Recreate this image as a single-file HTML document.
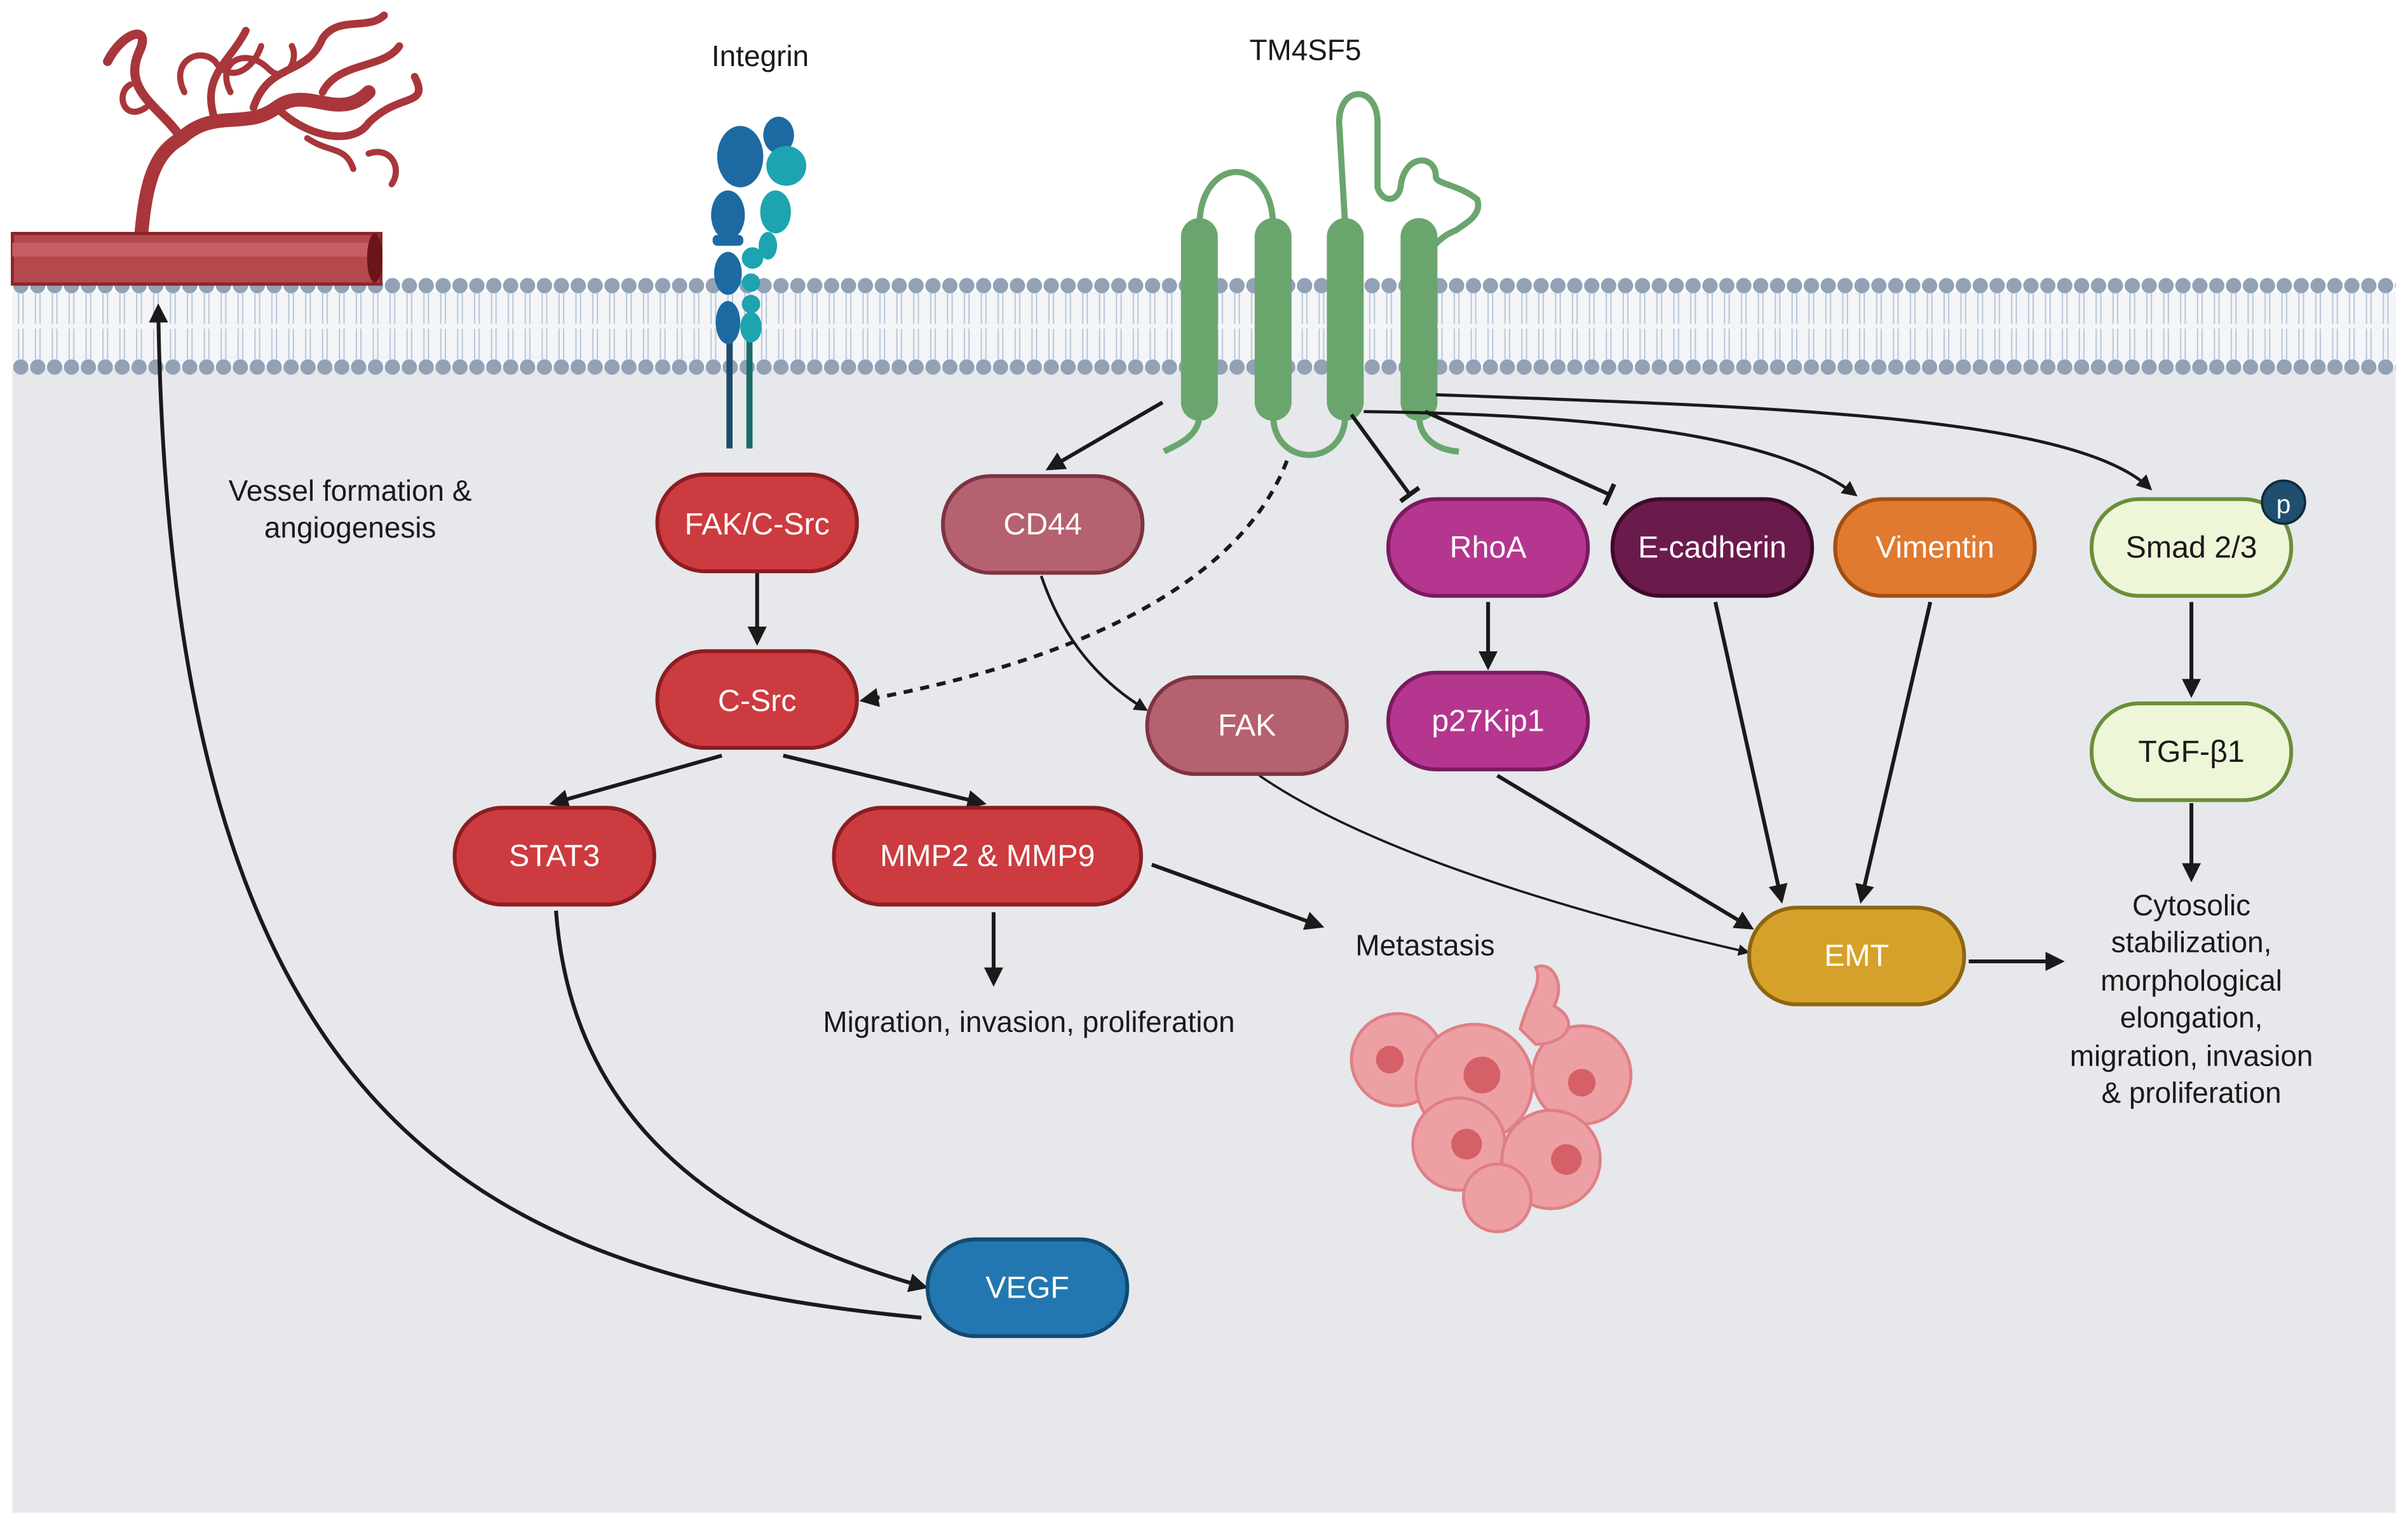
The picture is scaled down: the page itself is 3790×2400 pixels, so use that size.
<!DOCTYPE html>
<html><head><meta charset="utf-8"><style>html,body{margin:0;padding:0;background:#fff}svg{display:block}text{font-family:"Liberation Sans",sans-serif}</style></head><body>
<svg width="3790" height="2400" viewBox="0 0 1568 993" xmlns="http://www.w3.org/2000/svg">
<defs>
<marker id="a" viewBox="0 0 10 10" refX="8" refY="5" markerWidth="5" markerHeight="5" orient="auto"><path d="M0,0L10,5L0,10z" fill="#1a1a1a"/></marker>
<marker id="t" viewBox="0 0 10 10" refX="5" refY="5" markerWidth="6" markerHeight="6" orient="auto"><path d="M5,0V10" stroke="#1a1a1a" stroke-width="2"/></marker>
<pattern id="hp" x="8" y="181" width="11" height="10" patternUnits="userSpaceOnUse"><circle cx="5.5" cy="5" r="5" fill="#93a1b6"/></pattern>
<pattern id="hp2" x="8" y="234" width="11" height="10" patternUnits="userSpaceOnUse"><circle cx="5.5" cy="5" r="5" fill="#93a1b6"/></pattern>
<pattern id="tp" x="8" y="191" width="11" height="43" patternUnits="userSpaceOnUse"><path d="M4,0V20M7,0V20M4,23V43M7,23V43" stroke="#b8c4d6" stroke-width="0.8"/></pattern>
</defs>
<rect x="8" y="240" width="1552" height="745" fill="#e6e8ec"/>
<rect x="8" y="190" width="1552" height="46" fill="#f3f5f8"/>
<rect x="8" y="181" width="1552" height="10" fill="url(#hp)"/>
<rect x="8" y="191" width="1552" height="43" fill="url(#tp)"/>
<rect x="8" y="234" width="1552" height="10" fill="url(#hp2)"/>
<!-- vessel -->
<g stroke="#a8363b" fill="none" stroke-linecap="round">
<path d="M92,152 C95,120 100,100 118,90 C140,70 160,85 180,70 C200,55 220,80 240,60" stroke-width="9"/>
<path d="M118,90 C105,70 80,60 90,35 C100,15 80,20 70,40" stroke-width="6"/>
<path d="M140,78 C130,50 150,40 160,20 M165,70 C175,40 200,50 210,25 C220,10 240,20 250,10" stroke-width="5"/>
<path d="M180,70 C200,90 230,95 240,80 C260,60 280,70 270,50 M210,60 C220,40 250,45 260,30" stroke-width="5"/>
<path d="M120,60 C110,40 130,30 140,40 C150,55 165,45 170,30 M95,70 C80,80 75,60 85,55" stroke-width="4"/>
<path d="M150,60 C140,40 160,30 175,45 C185,55 195,40 190,30 M200,90 C215,100 225,95 230,110 M240,100 C255,95 262,110 255,120" stroke-width="4"/>
</g>
<rect x="8" y="152" width="240" height="33" fill="#b5484c" stroke="#8b2428" stroke-width="2"/>
<rect x="8" y="158" width="238" height="9" fill="#c45e62"/>
<ellipse cx="244" cy="168" rx="5" ry="16" fill="#6b1518"/>
<!-- integrin -->
<g>
<path d="M475,220V292" stroke="#1b4d6b" stroke-width="4"/>
<path d="M488,220V292" stroke="#1b6b6b" stroke-width="4"/>
<ellipse cx="482" cy="102" rx="15" ry="20" fill="#1d6aa2"/>
<ellipse cx="507" cy="88" rx="10" ry="12" fill="#1d6aa2"/>
<ellipse cx="512" cy="108" rx="13" ry="13" fill="#1da4b0"/>
<ellipse cx="474" cy="140" rx="11" ry="16" fill="#1d6aa2"/>
<ellipse cx="505" cy="138" rx="10" ry="14" fill="#1da4b0"/>
<rect x="464" y="153" width="20" height="7" rx="3" fill="#1d6aa2"/>
<ellipse cx="474" cy="178" rx="9" ry="14" fill="#1d6aa2"/>
<ellipse cx="474" cy="210" rx="8" ry="14" fill="#1d6aa2"/>
<circle cx="490" cy="168" r="7" fill="#1da4b0"/><circle cx="489" cy="184" r="6" fill="#1da4b0"/><circle cx="489" cy="198" r="6" fill="#1da4b0"/><ellipse cx="489" cy="213" rx="7" ry="10" fill="#1da4b0"/>
<ellipse cx="500" cy="160" rx="6" ry="9" fill="#1da4b0"/>
</g>
<!-- TM4SF5 -->
<g stroke="#6aa56e" fill="none" stroke-width="4">
<path d="M781,148 C781,100 829,100 829,148"/>
<path d="M876,148 L872,80 C872,55 897,55 897,80 L897,122 C900,132 910,132 912,122 C914,100 935,100 935,115 C935,120 950,120 962,130 C965,140 955,145 948,150 C935,155 930,165 924,175"/>
<path d="M781,270 C781,285 765,290 758,294"/>
<path d="M829,270 C829,305 876,305 876,270"/>
<path d="M924,270 C924,285 935,293 950,294"/>
</g>
<g fill="#6aa56e">
<rect x="769" y="142" width="24" height="132" rx="12"/>
<rect x="817" y="142" width="24" height="132" rx="12"/>
<rect x="864" y="142" width="24" height="132" rx="12"/>
<rect x="912" y="142" width="24" height="132" rx="12"/>
</g>
<g font-size="19" fill="#1a1a1a" text-anchor="middle">
<text x="495" y="43">Integrin</text>
<text x="850" y="39">TM4SF5</text>
<text x="228" y="326">Vessel formation &amp;</text>
<text x="228" y="350">angiogenesis</text>
<text x="928" y="622">Metastasis</text>
<text x="670" y="672">Migration, invasion, proliferation</text>
<text x="1427" y="596">Cytosolic</text>
<text x="1427" y="620">stabilization,</text>
<text x="1427" y="645">morphological</text>
<text x="1427" y="669">elongation,</text>
<text x="1427" y="694">migration, invasion</text>
<text x="1427" y="718">&amp; proliferation</text>
</g>
<g fill="#eda0a4" stroke="#e07f86" stroke-width="2">
<circle cx="910" cy="690" r="30"/><circle cx="960" cy="705" r="38"/><circle cx="1030" cy="700" r="32"/>
<circle cx="950" cy="745" r="30"/><circle cx="1010" cy="755" r="32"/><circle cx="975" cy="780" r="22"/>
<path d="M990,670 C995,650 1005,640 1000,630 C1010,625 1020,640 1012,655 C1030,665 1020,680 1000,680z"/>
</g>
<g fill="#d66068"><circle cx="905" cy="690" r="9"/><circle cx="965" cy="700" r="12"/><circle cx="955" cy="745" r="10"/><circle cx="1020" cy="755" r="10"/><circle cx="1030" cy="705" r="9"/></g>
<g stroke="#1a1a1a" stroke-width="2.5" fill="none">
<path d="M757,262 L683,305" marker-end="url(#a)"/>
<path d="M838,300 C800,400 650,440 562,456" stroke-dasharray="6,5" marker-end="url(#a)"/>
<path d="M678,375 C690,410 710,440 746,462" stroke-width="1.8" marker-end="url(#a)"/>
<path d="M880,270 L918,322" marker-end="url(#t)"/>
<path d="M928,268 L1048,322" marker-end="url(#t)"/>
<path d="M888,268 C1050,270 1160,285 1208,322" stroke-width="2" marker-end="url(#a)"/>
<path d="M935,257 C1150,265 1350,270 1400,318" stroke-width="2" marker-end="url(#a)"/>
<path d="M969,392 V434" marker-end="url(#a)"/>
<path d="M493,373 V418" marker-end="url(#a)"/>
<path d="M470,492 L360,523" marker-end="url(#a)"/>
<path d="M510,492 L640,523" marker-end="url(#a)"/>
<path d="M647,594 V640" marker-end="url(#a)"/>
<path d="M750,563 L860,603" marker-end="url(#a)"/>
<path d="M820,505 C900,560 1050,600 1138,620" stroke-width="1.5" marker-end="url(#a)"/>
<path d="M975,505 L1140,604" marker-end="url(#a)"/>
<path d="M1117,392 L1160,586" marker-end="url(#a)"/>
<path d="M1257,392 L1212,586" marker-end="url(#a)"/>
<path d="M1282,626 H1342" marker-end="url(#a)"/>
<path d="M1427,392 V452" marker-end="url(#a)"/>
<path d="M1427,523 V572" marker-end="url(#a)"/>
<path d="M362,593 C370,700 430,790 602,838" marker-end="url(#a)"/>
<path d="M600,858 C300,830 110,720 103,200" marker-end="url(#a)"/>
</g>
<g font-size="20" text-anchor="middle" stroke-width="2.5">
<rect x="428" y="309" width="130" height="63" rx="31" fill="#cc3b3f" stroke="#8b1e22"/><text x="493" y="348" fill="#fff" stroke="none">FAK/C-Src</text>
<rect x="428" y="424" width="130" height="63" rx="31" fill="#cc3b3f" stroke="#8b1e22"/><text x="493" y="463" fill="#fff" stroke="none">C-Src</text>
<rect x="296" y="526" width="130" height="63" rx="31" fill="#cc3b3f" stroke="#8b1e22"/><text x="361" y="564" fill="#fff" stroke="none">STAT3</text>
<rect x="543" y="526" width="200" height="63" rx="31" fill="#cc3b3f" stroke="#8b1e22"/><text x="643" y="564" fill="#fff" stroke="none">MMP2 &amp; MMP9</text>
<rect x="614" y="310" width="130" height="63" rx="31" fill="#b6616f" stroke="#7d3442"/><text x="679" y="348" fill="#fff" stroke="none">CD44</text>
<rect x="747" y="441" width="130" height="63" rx="31" fill="#b6616f" stroke="#7d3442"/><text x="812" y="479" fill="#fff" stroke="none">FAK</text>
<rect x="904" y="325" width="130" height="63" rx="31" fill="#b4368f" stroke="#7a1a60"/><text x="969" y="363" fill="#fff" stroke="none">RhoA</text>
<rect x="904" y="438" width="130" height="63" rx="31" fill="#b4368f" stroke="#7a1a60"/><text x="969" y="476" fill="#fff" stroke="none">p27Kip1</text>
<rect x="1050" y="325" width="130" height="63" rx="31" fill="#6b1a4c" stroke="#3e0a2b"/><text x="1115" y="363" fill="#fff" stroke="none">E-cadherin</text>
<rect x="1195" y="325" width="130" height="63" rx="31" fill="#e07a30" stroke="#a44f12"/><text x="1260" y="363" fill="#fff" stroke="none">Vimentin</text>
<rect x="1362" y="325" width="130" height="63" rx="31" fill="#eef6d8" stroke="#6b8e3a"/><text x="1427" y="363" fill="#1a1a1a" stroke="none">Smad 2/3</text>
<rect x="1362" y="458" width="130" height="63" rx="31" fill="#eef6d8" stroke="#6b8e3a"/><text x="1427" y="496" fill="#1a1a1a" stroke="none">TGF-β1</text>
<rect x="1139" y="591" width="140" height="63" rx="31" fill="#d6a12a" stroke="#8e6510"/><text x="1209" y="629" fill="#fff" stroke="none">EMT</text>
<rect x="604" y="807" width="130" height="63" rx="31" fill="#2377b0" stroke="#124a72"/><text x="669" y="845" fill="#fff" stroke="none">VEGF</text>
<circle cx="1487" cy="327" r="14" fill="#1f4e6e" stroke="#0e2a3e" stroke-width="1.5"/><text x="1487" y="334" fill="#fff" stroke="none" font-size="17">p</text>
</g>
</svg>
</body></html>
